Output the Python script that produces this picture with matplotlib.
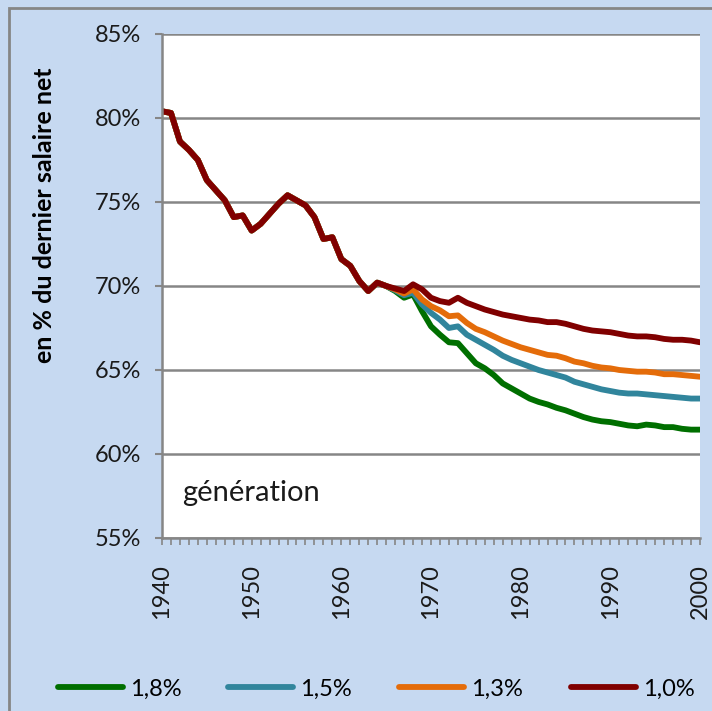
import matplotlib.pyplot as plt
from matplotlib.patches import Rectangle
from matplotlib.ticker import MultipleLocator, FuncFormatter

plt.rcParams['font.family'] = ['Lato', 'DejaVu Sans']

# common part (1940-1965), all scenarios identical
years = list(range(1940, 2001))
common = [80.4, 80.3, 78.6, 78.1, 77.5, 76.3, 75.7, 75.1, 74.1, 74.2,
          73.3, 73.7, 74.3, 74.9, 75.4, 75.1, 74.8, 74.1, 72.8, 72.9,
          71.6, 71.2, 70.3, 69.7, 70.2, 70.0]

# 1966-2000 per scenario
tail_18 = [69.7, 69.3, 69.5, 68.5, 67.6, 67.1, 66.65, 66.6, 66.0, 65.4,
           65.1, 64.7, 64.2, 63.9, 63.6, 63.3, 63.1, 62.95, 62.75, 62.6,
           62.4, 62.2, 62.05, 61.95, 61.9, 61.8, 61.7, 61.65, 61.75, 61.7,
           61.6, 61.6, 61.5, 61.45, 61.45]
tail_15 = [69.75, 69.45, 69.6, 68.9, 68.4, 68.0, 67.5, 67.6, 67.1, 66.8,
           66.5, 66.2, 65.85, 65.6, 65.4, 65.2, 65.0, 64.85, 64.7, 64.55,
           64.3, 64.15, 64.0, 63.85, 63.75, 63.65, 63.6, 63.6, 63.55, 63.5,
           63.45, 63.4, 63.35, 63.3, 63.3]
tail_13 = [69.8, 69.55, 69.8, 69.2, 68.8, 68.55, 68.2, 68.25, 67.8, 67.45,
           67.25, 67.0, 66.75, 66.55, 66.35, 66.2, 66.05, 65.9, 65.85, 65.7,
           65.5, 65.4, 65.25, 65.15, 65.1, 65.0, 64.95, 64.9, 64.9, 64.85,
           64.75, 64.75, 64.7, 64.65, 64.6]
tail_10 = [69.85, 69.7, 70.1, 69.8, 69.3, 69.1, 69.0, 69.3, 69.0, 68.8,
           68.6, 68.45, 68.3, 68.2, 68.1, 68.0, 67.95, 67.85, 67.85, 67.75,
           67.6, 67.45, 67.35, 67.3, 67.25, 67.15, 67.05, 67.0, 67.0, 66.95,
           66.85, 66.8, 66.8, 66.75, 66.65]

labels = ['1,8%', '1,5%', '1,3%', '1,0%']
colors = ['#006f00', '#31859c', '#e46c0a', '#800000']
series = [common + tail_18, common + tail_15, common + tail_13, common + tail_10]

bg = '#c6d9f1'
gray = '#868686'

fig = plt.figure(figsize=(7.12, 7.11), dpi=100, facecolor=bg)
fig.patches.append(Rectangle((9 / 712, -0.1), 1.2, 1.1 - 8 / 711,
                             transform=fig.transFigure, fill=False,
                             edgecolor=gray, linewidth=2))
ax = fig.add_axes([162 / 712, 1 - 538 / 711, 538 / 712, 504 / 711])
ax.set_facecolor('white')

for lab, col, vals in zip(labels, colors, series):
    ax.plot(years, vals, color=col, linewidth=4.2, label=lab,
            solid_capstyle='round', solid_joinstyle='round')

ax.set_xlim(1940, 2000)
ax.set_ylim(55, 85)
ax.yaxis.set_major_locator(MultipleLocator(5))
ax.yaxis.set_major_formatter(FuncFormatter(lambda v, p: f'{v:.0f}%'))
ax.xaxis.set_major_locator(MultipleLocator(10))
ax.xaxis.set_minor_locator(MultipleLocator(1))
ax.grid(axis='y', color=gray, linewidth=1.8)
ax.set_axisbelow(True)

for s in ['top', 'right']:
    ax.spines[s].set_visible(False)
for s in ['left', 'bottom']:
    ax.spines[s].set_color(gray)
    ax.spines[s].set_linewidth(1.8)

ax.tick_params(axis='y', length=5, width=1.5, color=gray, pad=10,
               labelsize=17, labelcolor='#1a1a1a')
ax.tick_params(axis='x', which='major', length=5, width=1.2, color=gray,
               pad=14, labelsize=17, labelrotation=90, labelcolor='#1a1a1a')
ax.tick_params(axis='x', which='minor', length=5, width=1.2, color=gray)

fig.text(45 / 712, 1 - 215 / 711, 'en % du dernier salaire net', rotation=90,
         ha='center', va='center', fontsize=18, fontweight='bold')
ax.text(0.037, 0.089, 'génération', transform=ax.transAxes,
        ha='left', va='center', fontsize=21, color='#1a1a1a')

fig.legend(loc='center', bbox_to_anchor=(376 / 712, 1 - 689 / 711), ncol=4,
           frameon=False, fontsize=17, handlelength=2.75, handletextpad=0.3,
           columnspacing=2.0)

fig.savefig('out.png', dpi=100, facecolor=bg)
